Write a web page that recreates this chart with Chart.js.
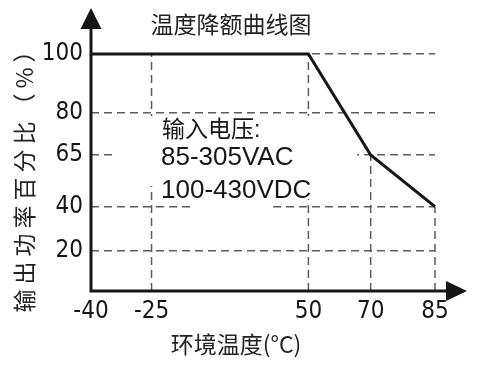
<!DOCTYPE html>
<html>
<head>
<meta charset="utf-8">
<script src="https://cdn.jsdelivr.net/npm/chart.js@4"></script>
<style>
    html, body { margin: 0; padding: 0; background: #fff; }
    #wrap { width: 480px; height: 365px; }
</style>
</head>
<body>
<div id="wrap"><canvas id="derating" width="480" height="365"></canvas></div>
<script>
// curve points (ambient temperature in C, output power in %)
const temps = [-40, 50, 70, 85];
const powerPct = [100, 100, 65, 40];

// tick values on each axis
const xTickValues = [-40, -25, 50, 70, 85];
const yTickValues = [20, 40, 65, 80, 100];

const chartTitle = '温度降额曲线图';
const xTitle = '环境温度(°C)';
const yTitle = '输出功率百分比（%）';
const noteLines = ['输入电压:', '85-305VAC', '100-430VDC'];

const INK = '#161616';
const GUIDE = '#5c5c5c';
const NUM_FONT = '"Liberation Sans Narrow", "DejaVu Sans Condensed", "Liberation Sans", sans-serif';
const TEXT_FONT = '"Liberation Sans", "Noto Sans CJK SC", sans-serif';
const CJK_FONT = '"Noto Sans CJK SC", "Noto Sans", sans-serif';

// the drawing does not space its ticks evenly, so the axes map
// tick values onto fixed fractions of their length
class PiecewiseScale extends Chart.LinearScale {
    static id = 'piecewise';
    static defaults = {};

    toDecimal(value) {
        const { values, fractions } = this.options.stops;
        let i = 0;
        while (i < values.length - 2 && value > values[i + 1]) i++;
        const t = (value - values[i]) / (values[i + 1] - values[i]);
        return fractions[i] + t * (fractions[i + 1] - fractions[i]);
    }

    fromDecimal(dec) {
        const { values, fractions } = this.options.stops;
        let i = 0;
        while (i < fractions.length - 2 && dec > fractions[i + 1]) i++;
        const t = (dec - fractions[i]) / (fractions[i + 1] - fractions[i]);
        return values[i] + t * (values[i + 1] - values[i]);
    }

    getPixelForValue(value) {
        return value === null ? NaN : this.getPixelForDecimal(this.toDecimal(value));
    }

    getValueForPixel(pixel) {
        return this.fromDecimal(this.getDecimalForPixel(pixel));
    }
}
Chart.register(PiecewiseScale);

function powerAt(t) {
    for (let i = 0; i < temps.length - 1; i++) {
        if (t >= temps[i] && t <= temps[i + 1]) {
            const k = (t - temps[i]) / (temps[i + 1] - temps[i]);
            return powerPct[i] + k * (powerPct[i + 1] - powerPct[i]);
        }
    }
    return 0;
}

const curveDataset = {
    data: temps.map((t, i) => ({ x: t, y: powerPct[i] })),
    borderColor: INK,
    borderWidth: 3,
    pointRadius: 0,
    tension: 0,
    clip: false
};

// dashed drops from the x axis up to the curve
const guideDatasets = xTickValues.slice(1).map((t) => ({
    data: [{ x: t, y: 0 }, { x: t, y: powerAt(t) }],
    borderColor: GUIDE,
    borderWidth: 1.5,
    borderDash: [8, 5],
    pointRadius: 0,
    clip: false
}));

function drawSpaced(ctx, text, cx, cy, spacing) {
    ctx.letterSpacing = spacing + 'px';
    // letterSpacing also pads the last glyph, shift back by half of it
    ctx.fillText(text, cx + spacing / 2, cy);
    ctx.letterSpacing = '0px';
}

const decorations = {
    id: 'decorations',
    beforeDatasetDraw(chart, args) {
        if (args.index !== 0) return;
        const ctx = chart.ctx;
        ctx.save();
        // white panel behind the note hides the grid
        ctx.fillStyle = '#fff';
        ctx.fillRect(113, 116, 244, 70);
        ctx.fillRect(193, 186, 79, 24);
        ctx.fillRect(272, 186, 46, 13);

        ctx.fillStyle = INK;
        ctx.textAlign = 'left';
        ctx.textBaseline = 'middle';
        ctx.font = '23px ' + TEXT_FONT;
        ctx.fillText(noteLines[0], 162, 131);
        ctx.font = '26px ' + TEXT_FONT;
        ctx.fillText(noteLines[1], 161, 158);
        ctx.fillText(noteLines[2], 161, 191);
        ctx.restore();
    },
    afterDatasetsDraw(chart) {
        const { ctx, scales: { x, y } } = chart;
        const x0 = x.getPixelForValue(xTickValues[0]);
        const y0 = y.getPixelForValue(0);
        ctx.save();
        ctx.strokeStyle = INK;
        ctx.fillStyle = INK;
        ctx.lineWidth = 3;
        ctx.beginPath();
        ctx.moveTo(x0, y0 + 1.5);
        ctx.lineTo(x0, 26);
        ctx.moveTo(x0 - 1.5, y0);
        ctx.lineTo(448, y0);
        ctx.stroke();

        ctx.beginPath();
        ctx.moveTo(x0, 8);
        ctx.lineTo(x0 + 10.5, 29);
        ctx.lineTo(x0 - 10.5, 29);
        ctx.closePath();
        ctx.fill();

        ctx.beginPath();
        ctx.moveTo(467, y0);
        ctx.lineTo(446, y0 - 10);
        ctx.lineTo(446, y0 + 10);
        ctx.closePath();
        ctx.fill();

        ctx.fillStyle = '#222';
        ctx.textAlign = 'center';
        ctx.textBaseline = 'middle';
        ctx.font = '23px ' + CJK_FONT;
        ctx.fillText(chartTitle, 231, 24);
        ctx.fillText(xTitle, 236, 344);

        ctx.translate(24, 176);
        ctx.rotate(-Math.PI / 2);
        ctx.font = '23px ' + CJK_FONT;
        drawSpaced(ctx, yTitle, 0, 0, 5);
        ctx.restore();
    }
};

new Chart(document.getElementById('derating'), {
    type: 'line',
    data: { datasets: [curveDataset, ...guideDatasets] },
    options: {
        responsive: false,
        animation: false,
        events: [],
        layout: { padding: { top: 54, right: 45, left: 0, bottom: 0 } },
        plugins: {
            legend: { display: false },
            title: { display: false },
            tooltip: { enabled: false }
        },
        scales: {
            x: {
                type: 'piecewise',
                min: -40,
                max: 85,
                stops: { values: xTickValues, fractions: [0, 0.176, 0.632, 0.813, 1] },
                afterBuildTicks: (s) => { s.ticks = xTickValues.map((v) => ({ value: v })); },
                afterFit: (s) => { s.height = 74; },
                grid: { display: false, drawTicks: false },
                border: { display: false },
                ticks: {
                    color: INK,
                    padding: 6,
                    maxRotation: 0,
                    autoSkip: false,
                    font: { family: NUM_FONT, size: 24 },
                    callback: (v) => String(v)
                }
            },
            y: {
                type: 'piecewise',
                min: 0,
                max: 100,
                stops: { values: [0, 20, 40, 65, 80, 100], fractions: [0, 0.170, 0.356, 0.574, 0.751, 1] },
                afterBuildTicks: (s) => { s.ticks = yTickValues.map((v) => ({ value: v })); },
                afterFit: (s) => { s.width = 91; },
                grid: { color: GUIDE, lineWidth: 1.5, drawTicks: false },
                border: { display: false, dash: [8, 5] },
                ticks: {
                    color: INK,
                    padding: 8,
                    autoSkip: false,
                    font: { family: NUM_FONT, size: 24 },
                    callback: (v) => String(v)
                }
            }
        }
    },
    plugins: [decorations]
});
</script>
</body>
</html>
